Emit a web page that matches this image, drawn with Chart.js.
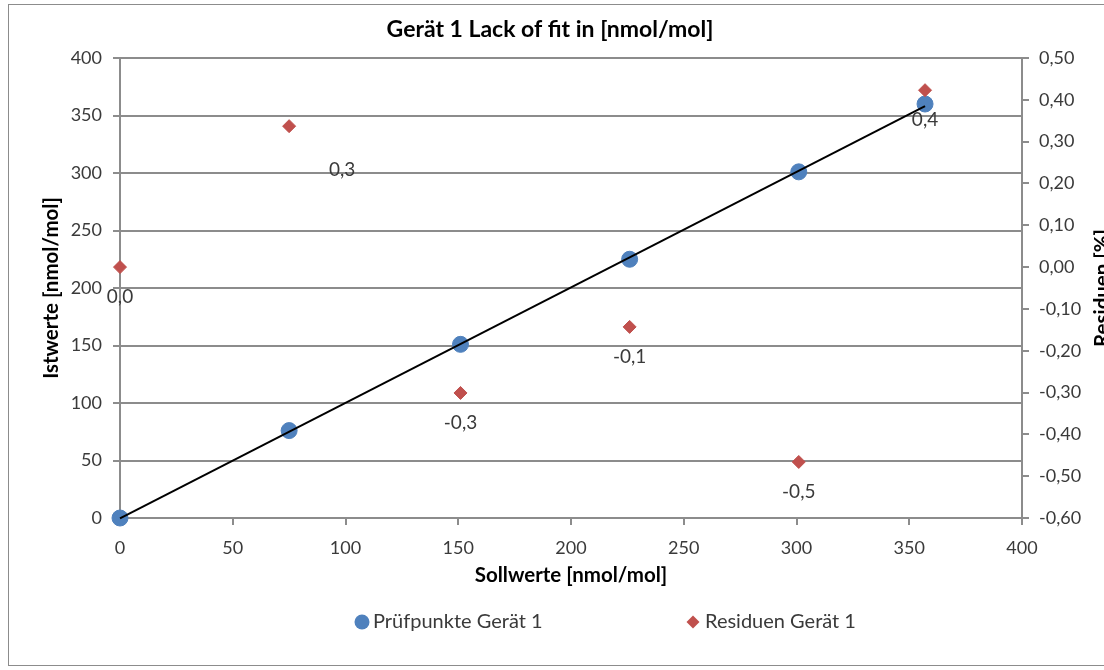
<!DOCTYPE html>
<html>
<head>
<meta charset="utf-8">
<script src="https://cdn.jsdelivr.net/npm/chart.js@4/dist/chart.umd.min.js"></script>
<style>
  html, body { margin: 0; padding: 0; background: #fff; overflow: hidden; width: 1104px; height: 670px; }
  #chart { position: absolute; left: 0; top: 0; }
</style>
</head>
<body>
<canvas id="chart" width="1120" height="670" style="width:1120px;height:670px"></canvas>
<script>
// Prüfpunkte (Soll / Ist) and residuals in %
const sollwerte = [0, 75, 151, 226, 301, 357];
const istwerte = [0, 76, 151, 225, 301, 360];
const residuen = [0.00, 0.337, -0.301, -0.143, -0.466, 0.423];

const chartTitle = 'Gerät 1 Lack of fit in [nmol/mol]';
const xTitle = 'Sollwerte [nmol/mol]';
const yTitle = 'Istwerte [nmol/mol]';
const y2Title = 'Residuen [%]';
const legendLabels = ['Prüfpunkte Gerät 1', 'Residuen Gerät 1'];

const blue = '#4F81BD';
const red = '#C0504D';
const gridColor = '#8c8c8c';
const textColor = '#3a3a3a';
const fontFamily = 'Lato, "Liberation Sans", sans-serif';

// least squares trend line through the Prüfpunkte
function linearFit(xs, ys) {
  const n = xs.length;
  const mx = xs.reduce((a, b) => a + b, 0) / n;
  const my = ys.reduce((a, b) => a + b, 0) / n;
  let sxy = 0, sxx = 0;
  for (let i = 0; i < n; i++) {
    sxy += (xs[i] - mx) * (ys[i] - my);
    sxx += (xs[i] - mx) * (xs[i] - mx);
  }
  const slope = sxy / sxx;
  return { slope, intercept: my - slope * mx };
}

const fit = linearFit(sollwerte, istwerte);
const xMinData = Math.min(...sollwerte);
const xMaxData = Math.max(...sollwerte);
const trendPoints = [xMinData, xMaxData].map(x => ({ x, y: fit.intercept + fit.slope * x }));

function fmtComma(v, digits) {
  if (Math.abs(v) < 1e-9) v = 0;
  return v.toFixed(digits).replace('.', ',');
}

const decorPlugin = {
  id: 'decor',
  beforeDraw(chart) {
    const ctx = chart.ctx;
    ctx.save();
    ctx.fillStyle = '#fff';
    ctx.fillRect(0, 0, chart.width, chart.height);
    ctx.strokeStyle = '#8c8c8c';
    ctx.lineWidth = 1;
    ctx.strokeRect(8.5, 4.5, 1130, 661);
    ctx.restore();
  },
  afterDraw(chart) {
    const ctx = chart.ctx;
    const area = chart.chartArea;
    ctx.save();
    // chart title
    ctx.fillStyle = '#000';
    ctx.font = 'bold 23px ' + fontFamily;
    ctx.textAlign = 'center';
    ctx.textBaseline = 'middle';
    ctx.fillText(chartTitle, 550, 30);

    // right axis title (clipped by the window edge like the original)
    ctx.save();
    ctx.translate(1092, (area.top + area.bottom) / 2);
    ctx.rotate(-Math.PI / 2);
    ctx.font = 'bold 20.5px ' + fontFamily;
    ctx.textAlign = 'center';
    ctx.textBaseline = 'top';
    ctx.fillText(y2Title, 0, 0);
    ctx.restore();

    // legend
    const ly = 622;
    ctx.font = '20px ' + fontFamily;
    ctx.textAlign = 'left';
    ctx.textBaseline = 'middle';
    ctx.beginPath();
    ctx.fillStyle = blue;
    ctx.arc(362, ly, 7.5, 0, Math.PI * 2);
    ctx.fill();
    ctx.fillStyle = textColor;
    ctx.fillText(legendLabels[0], 373, ly);
    ctx.beginPath();
    ctx.fillStyle = red;
    ctx.moveTo(693, ly - 6.5);
    ctx.lineTo(699.5, ly);
    ctx.lineTo(693, ly + 6.5);
    ctx.lineTo(686.5, ly);
    ctx.closePath();
    ctx.fill();
    ctx.fillStyle = textColor;
    ctx.fillText(legendLabels[1], 705, ly);
    ctx.restore();
  },
  afterDatasetsDraw(chart) {
    const ctx = chart.ctx;
    const meta = chart.getDatasetMeta(2);
    ctx.save();
    ctx.font = '19px ' + fontFamily;
    ctx.fillStyle = textColor;
    ctx.textAlign = 'center';
    ctx.textBaseline = 'middle';
    meta.data.forEach((el, i) => {
      let dx = 0, dy = 30;
      if (i === 1) { dx = 53; dy = 44; } // moved label, as in the original
      ctx.fillText(fmtComma(residuen[i], 1), el.x + dx, el.y + dy);
    });
    ctx.restore();
  }
};

function makeChart() {
  const ctx = document.getElementById('chart').getContext('2d');
  new Chart(ctx, {
    type: 'scatter',
    data: {
      datasets: [
        {
          label: legendLabels[0],
          data: sollwerte.map((x, i) => ({ x, y: istwerte[i] })),
          backgroundColor: blue,
          borderColor: blue,
          pointRadius: 8,
          pointHoverRadius: 8,
          yAxisID: 'y',
          clip: false,
          order: 3
        },
        {
          label: 'Trend',
          type: 'line',
          data: trendPoints,
          borderColor: '#000',
          borderWidth: 2,
          pointRadius: 0,
          fill: false,
          yAxisID: 'y',
          clip: false,
          order: 2
        },
        {
          label: legendLabels[1],
          data: sollwerte.map((x, i) => ({ x, y: residuen[i] })),
          backgroundColor: red,
          borderColor: red,
          pointStyle: 'rectRot',
          pointRadius: 6.5,
          pointHoverRadius: 6.5,
          yAxisID: 'y2',
          clip: false,
          order: 1
        }
      ]
    },
    options: {
      responsive: false,
      animation: false,
      events: [],
      layout: {
        padding: { left: 0, top: 58, right: 0, bottom: 72 }
      },
      scales: {
        x: {
          type: 'linear',
          min: 0,
          max: 400,
          ticks: { stepSize: 50, padding: 12, color: textColor, font: { family: fontFamily, size: 18 } },
          grid: { drawOnChartArea: false, drawTicks: true, tickLength: 7, color: gridColor, lineWidth: 2 },
          border: { color: gridColor, width: 2 },
          title: { display: true, text: xTitle, color: '#000', padding: { bottom: 10 }, font: { family: fontFamily, size: 20.5, weight: 'bold' } },
          afterFit(scale) { scale.height = 80; }
        },
        y: {
          position: 'left',
          min: 0,
          max: 400,
          ticks: { stepSize: 50, padding: 11, color: textColor, font: { family: fontFamily, size: 18 } },
          grid: { drawTicks: true, tickLength: 7, color: gridColor, lineWidth: 2 },
          border: { color: gridColor, width: 2 },
          title: { display: true, text: yTitle, color: '#000', padding: { top: 39 }, font: { family: fontFamily, size: 20.5, weight: 'bold' } },
          afterFit(scale) { scale.width = 120; }
        },
        y2: {
          position: 'right',
          min: -0.6,
          max: 0.5,
          ticks: {
            stepSize: 0.1,
            padding: 10,
            color: textColor,
            font: { family: fontFamily, size: 18 },
            callback: v => fmtComma(v, 2)
          },
          grid: { drawOnChartArea: false, drawTicks: true, tickLength: 7, color: gridColor, lineWidth: 2 },
          border: { color: gridColor, width: 2 },
          afterFit(scale) { scale.width = 98; }
        }
      },
      plugins: {
        legend: { display: false },
        tooltip: { enabled: false },
        title: { display: false }
      }
    },
    plugins: [decorPlugin]
  });
}

Promise.all([
  document.fonts.load('18px Lato'),
  document.fonts.load('bold 18px Lato')
]).then(makeChart, makeChart);
</script>
</body>
</html>
